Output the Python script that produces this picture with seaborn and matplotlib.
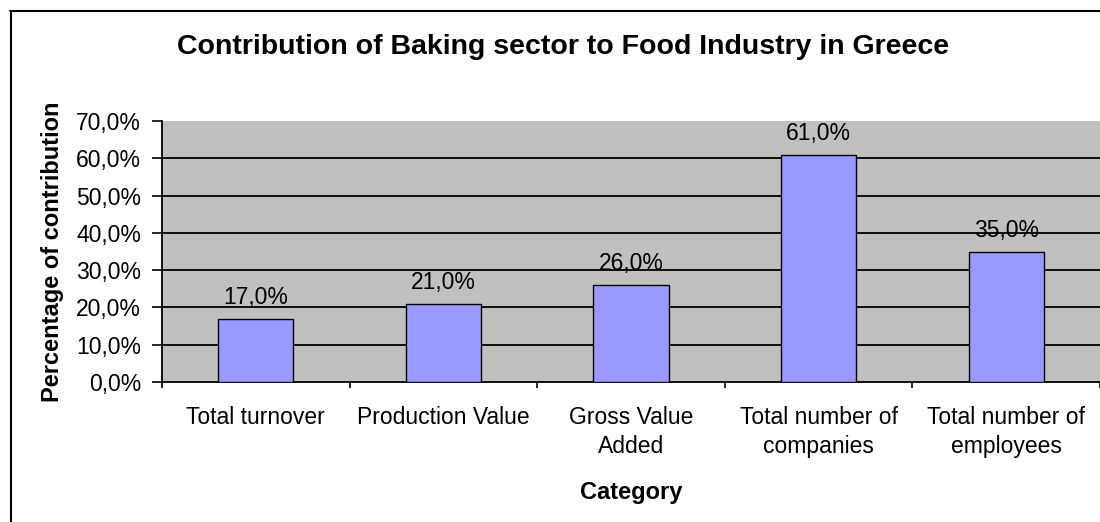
import matplotlib.pyplot as plt
import seaborn as sns
import pandas as pd
from matplotlib.lines import Line2D
from matplotlib.ticker import FuncFormatter, FixedLocator

categories = [
    "Total turnover",
    "Production Value",
    "Gross Value\nAdded",
    "Total number of\ncompanies",
    "Total number of\nemployees",
]
contribution = [17.0, 21.0, 26.0, 61.0, 35.0]
yticks = [0, 10, 20, 30, 40, 50, 60, 70]


def pct(v):
    return f"{v:.1f}%".replace(".", ",")


def main() -> None:
    sns.set_style("white")
    plt.rcParams["font.family"] = ["Liberation Sans", "DejaVu Sans"]
    plt.rcParams["text.color"] = "black"
    plt.rcParams["xtick.color"] = "black"
    plt.rcParams["ytick.color"] = "black"
    plt.rcParams["axes.labelcolor"] = "black"

    df = pd.DataFrame({"category": categories, "value": contribution})

    fig = plt.figure(figsize=(11, 5.22), dpi=100)
    ax = fig.add_axes([162 / 1100, 1 - 382 / 522, 938 / 1100, 261 / 522])
    ax.set_facecolor("#c0c0c0")

    sns.barplot(data=df, x="category", y="value", color="#9999ff", width=0.4,
                edgecolor="black", linewidth=1.0, saturation=1, ax=ax, zorder=3)

    ax.set_xlim(-0.5, len(categories) - 0.5)
    ax.set_ylim(0, 70)
    ax.yaxis.set_major_locator(FixedLocator(yticks))
    ax.yaxis.set_major_formatter(FuncFormatter(lambda v, _: pct(v)))
    for y in yticks[1:-1]:
        ax.axhline(y, color="black", lw=1.3, zorder=1)

    ax.tick_params(axis="y", direction="out", length=7, width=1.2,
                   labelsize=16.5, pad=8, left=True)
    ax.set_xticks(range(len(categories)))
    ax.set_xticklabels(categories, fontsize=16.5, linespacing=1.35)
    ax.tick_params(axis="x", which="major", length=0, pad=17)
    ax.set_xticks([i - 0.5 for i in range(len(categories) + 1)], minor=True)
    ax.tick_params(axis="x", which="minor", direction="out", length=4, width=1.2,
                   bottom=True)

    for side in ["top", "right"]:
        ax.spines[side].set_visible(False)
    for side in ["left", "bottom"]:
        ax.spines[side].set_color("black")
        ax.spines[side].set_linewidth(1.3)

    for i, v in enumerate(contribution):
        ax.annotate(pct(v), (i, v), xytext=(0, 7), textcoords="offset points",
                    ha="center", va="bottom", fontsize=16.5)

    ax.set_xlabel("Category", fontsize=17, fontweight="bold")
    ax.xaxis.set_label_coords(0.5, -(481 - 382) / 261)
    ax.set_ylabel("Percentage of contribution", fontsize=17, fontweight="bold")
    ax.yaxis.set_label_coords(-(162 - 64) / 938, 0.5)
    fig.text(563 / 1100, 1 - 47 / 522, "Contribution of Baking sector to Food Industry in Greece",
             ha="center", va="center", fontsize=20.5, fontweight="bold")

    fig.add_artist(Line2D([10.5 / 1100, 10.5 / 1100], [0, 1 - 11 / 522], color="black", lw=1.5))
    fig.add_artist(Line2D([10 / 1100, 1], [1 - 11 / 522, 1 - 11 / 522], color="black", lw=1.5))

    fig.savefig("out.png", dpi=100)


if __name__ == "__main__":
    main()
